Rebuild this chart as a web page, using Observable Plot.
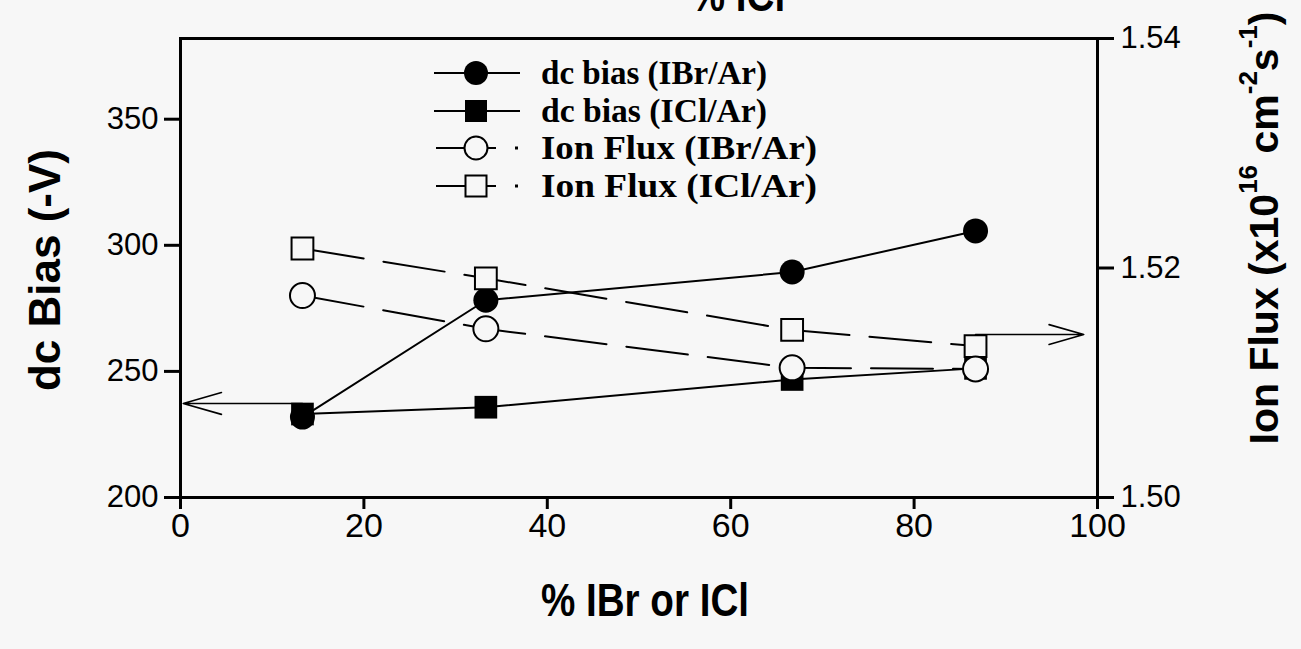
<!DOCTYPE html>
<html>
<head>
<meta charset="utf-8">
<script src="https://cdn.jsdelivr.net/npm/d3@7"></script>
<script src="https://cdn.jsdelivr.net/npm/@observablehq/plot@0.6"></script>
<style>
  html, body { margin: 0; padding: 0; background: #f7f7f7; }
  #wrap { position: relative; width: 1301px; height: 649px; overflow: hidden; background: #f7f7f7; }
  #chart, #over { position: absolute; left: 0; top: 0; }
  #over { pointer-events: none; }
</style>
</head>
<body>
<div id="wrap">
  <div id="chart"></div>
  <svg id="over" width="1301" height="649"></svg>
</div>
<script>
// ---- data ----
const xPercent = [13.3, 33.3, 66.7, 86.7];
const dcBiasIBr = [231.9, 278.2, 289.4, 305.7];   // -V, left axis
const dcBiasICl = [233.1, 235.8, 246.8, 251.2];   // -V, left axis
const ionFluxIBr = [1.5176, 1.5147, 1.5113, 1.5112]; // x10^16 cm^-2 s^-1, right axis
const ionFluxICl = [1.5217, 1.5191, 1.5146, 1.5132]; // right axis
const xTicks = [0, 20, 40, 60, 80, 100];
const leftTicks = [200, 250, 300, 350];
const rightTicks = [1.50, 1.52, 1.54];
const leftDomain = [200, 382];
const rightDomain = [1.50, 1.54];
// arrows pointing to each series' axis (data units)
const arrowLeft = {x1: 13.3, x2: 0.3, y: 237.3};      // left axis units
const arrowRight = {x1: 86.7, x2: 98.5, flux: 1.5142}; // right axis units
const seriesNames = ["dc bias (IBr/Ar)", "dc bias (ICl/Ar)", "Ion Flux (IBr/Ar)", "Ion Flux (ICl/Ar)"];

// map right-axis values onto the shared y scale
const toLeft = f => leftDomain[0] + (f - rightDomain[0]) / (rightDomain[1] - rightDomain[0]) * (leftDomain[1] - leftDomain[0]);
const fromLeft = v => rightDomain[0] + (v - leftDomain[0]) / (leftDomain[1] - leftDomain[0]) * (rightDomain[1] - rightDomain[0]);

const mk = (ys, conv) => xPercent.map((x, i) => ({x, y: conv ? toLeft(ys[i]) : ys[i]}));
const sIBr = mk(dcBiasIBr, false);
const sICl = mk(dcBiasICl, false);
const fIBr = mk(ionFluxIBr, true);
const fICl = mk(ionFluxICl, true);
const arrows = [
  {x1: arrowLeft.x1, x2: arrowLeft.x2, y1: arrowLeft.y, y2: arrowLeft.y},
  {x1: arrowRight.x1, x2: arrowRight.x2, y1: toLeft(arrowRight.flux), y2: toLeft(arrowRight.flux)}
];

const BG = "#f7f7f7";
const tickFont = "'Liberation Sans', Arial, sans-serif";

const plot = Plot.plot({
  width: 1301,
  height: 649,
  marginLeft: 180,
  marginRight: 204,
  marginTop: 38,
  marginBottom: 152,
  style: {background: "transparent", color: "black", overflow: "visible"},
  x: {domain: [0, 100]},
  y: {domain: leftDomain},
  marks: [
    Plot.axisX({ticks: xTicks, tickSize: 12, tickPadding: 3, strokeWidth: 3, fontSize: 34,
      fontFamily: tickFont, label: null, tickFormat: d => String(d)}),
    Plot.axisY({anchor: "left", ticks: leftTicks, tickSize: 16, tickPadding: 6, strokeWidth: 3, fontSize: 31,
      fontFamily: tickFont, label: null, tickFormat: d => String(d)}),
    Plot.axisY({anchor: "right", ticks: rightTicks.map(toLeft), tickSize: 16, tickPadding: 7, strokeWidth: 3, fontSize: 31,
      fontFamily: tickFont, label: null, tickFormat: d => fromLeft(d).toFixed(2)}),
    Plot.frame({stroke: "black", strokeWidth: 3}),
    Plot.line(sIBr, {x: "x", y: "y", stroke: "black", strokeWidth: 2}),
    Plot.line(sICl, {x: "x", y: "y", stroke: "black", strokeWidth: 2}),
    Plot.line(fIBr, {x: "x", y: "y", stroke: "black", strokeWidth: 2, strokeDasharray: "62,20"}),
    Plot.line(fICl, {x: "x", y: "y", stroke: "black", strokeWidth: 2, strokeDasharray: "62,20"}),
    Plot.arrow(arrows, {x1: "x1", y1: "y1", x2: "x2", y2: "y2", stroke: "black", strokeWidth: 1.6,
      headAngle: 32, headLength: 42}),
    Plot.dot(sIBr, {x: "x", y: "y", symbol: "circle", r: 12.5, fill: "black", stroke: "none"}),
    Plot.dot(sICl, {x: "x", y: "y", symbol: "square", r: 12.8, fill: "black", stroke: "none"}),
    Plot.dot(fICl, {x: "x", y: "y", symbol: "square", r: 12.3, fill: BG, stroke: "black", strokeWidth: 2}),
    Plot.dot(fIBr, {x: "x", y: "y", symbol: "circle", r: 12.5, fill: BG, stroke: "black", strokeWidth: 2})
  ]
});
document.getElementById("chart").appendChild(plot);

// ---- titles and legend (overlay) ----
const over = d3.select("#over");
const titleFont = "'Liberation Sans', Arial, sans-serif";

over.append("text").attr("transform", "translate(738,11) scale(0.84,1)").attr("text-anchor", "middle")
  .attr("font-family", titleFont).attr("font-weight", "bold").attr("font-size", 46).text("% ICl");

over.append("text").attr("transform", "translate(645,616) scale(0.84,1)").attr("text-anchor", "middle")
  .attr("font-family", titleFont).attr("font-weight", "bold").attr("font-size", 46).text("% IBr or ICl");

over.append("text").attr("transform", "translate(44,270) rotate(-90)").attr("text-anchor", "middle")
  .attr("dominant-baseline", "central")
  .attr("font-family", titleFont).attr("font-weight", "bold").attr("font-size", 44).text("dc Bias (-V)");

const rt = over.append("text").attr("transform", "translate(1264,228) rotate(-90)").attr("text-anchor", "middle")
  .attr("dominant-baseline", "central")
  .attr("font-family", titleFont).attr("font-weight", "bold").attr("font-size", 41);
rt.append("tspan").text("Ion Flux (x10");
rt.append("tspan").attr("font-size", 26).attr("dy", -16).text("16");
rt.append("tspan").attr("dy", 16).text(" cm");
rt.append("tspan").attr("font-size", 26).attr("dy", -16).text("-2");
rt.append("tspan").attr("dy", 16).text("s");
rt.append("tspan").attr("font-size", 26).attr("dy", -16).text("-1");
rt.append("tspan").attr("dy", 16).text(")");

const legendRows = [73, 111, 148, 186];
const legendTextWidths = [226, 226, 276, 276];
const lg = over.append("g");
seriesNames.forEach((name, i) => {
  const cy = legendRows[i];
  const g = lg.append("g");
  const mx = 476;
  if (i < 2) {
    g.append("line").attr("x1", 434).attr("x2", 520).attr("y1", cy).attr("y2", cy).attr("stroke", "black").attr("stroke-width", 2);
  } else {
    g.append("line").attr("x1", 436).attr("x2", 465).attr("y1", cy).attr("y2", cy).attr("stroke", "black").attr("stroke-width", 2);
    g.append("line").attr("x1", 487).attr("x2", 496).attr("y1", cy).attr("y2", cy).attr("stroke", "black").attr("stroke-width", 2);
    g.append("rect").attr("x", 515).attr("y", cy - 1.5).attr("width", 3).attr("height", 3).attr("fill", "black");
  }
  if (i === 0) g.append("circle").attr("cx", mx).attr("cy", cy).attr("r", 12).attr("fill", "black");
  if (i === 1) g.append("rect").attr("x", mx - 11).attr("y", cy - 11).attr("width", 22).attr("height", 22).attr("fill", "black");
  if (i === 2) g.append("circle").attr("cx", mx).attr("cy", cy).attr("r", 11.5).attr("fill", BG).attr("stroke", "black").attr("stroke-width", 2);
  if (i === 3) g.append("rect").attr("x", mx - 10.5).attr("y", cy - 10.5).attr("width", 21).attr("height", 21).attr("fill", BG).attr("stroke", "black").attr("stroke-width", 2);
  g.append("text").attr("x", 541).attr("y", cy).attr("dominant-baseline", "central")
    .attr("font-family", "'Liberation Serif', 'Times New Roman', serif").attr("font-weight", "bold")
    .attr("font-size", 33).attr("textLength", legendTextWidths[i]).attr("lengthAdjust", "spacingAndGlyphs")
    .text(name);
});
</script>
</body>
</html>
